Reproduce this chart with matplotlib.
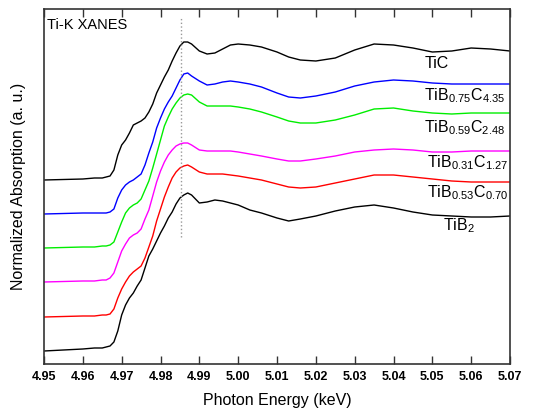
import numpy as np
import matplotlib
matplotlib.use("Agg")
import matplotlib.pyplot as plt

plt.rcParams['font.family'] = ['Liberation Sans', 'DejaVu Sans']
plt.rcParams['mathtext.fontset'] = 'custom'
plt.rcParams['mathtext.rm'] = 'Liberation Sans'
plt.rcParams['mathtext.it'] = 'Liberation Sans:italic'
plt.rcParams['mathtext.bf'] = 'Liberation Sans:bold'

# energia (keV), malla comun para todas las curvas
energy = [4.950, 4.960, 4.963, 4.965, 4.966, 4.967, 4.968, 4.969, 4.970, 4.971,
          4.972, 4.973, 4.974, 4.975, 4.976, 4.977, 4.978, 4.979, 4.980, 4.981,
          4.982, 4.983, 4.984, 4.985, 4.986, 4.987, 4.988, 4.990, 4.992, 4.994,
          4.996, 4.998, 5.000, 5.003, 5.006, 5.010, 5.013, 5.016, 5.020, 5.025,
          5.030, 5.035, 5.040, 5.045, 5.050, 5.055, 5.060, 5.065, 5.070]

# absorcion normalizada (a. u.) de cada muestra
tic = [0, .01, .02, .02, .03, .04, .10, .25, .35, .40,
       .47, .55, .57, .59, .62, .68, .76, .87, .95, 1.03,
       1.10, 1.19, 1.27, 1.34, 1.38, 1.38, 1.36, 1.29, 1.26, 1.27,
       1.31, 1.35, 1.36, 1.35, 1.33, 1.28, 1.23, 1.20, 1.19, 1.22,
       1.30, 1.36, 1.35, 1.32, 1.28, 1.29, 1.32, 1.31, 1.29]
tib075 = [0, .01, .01, .01, .01, .02, .05, .16, .24, .29,
          .32, .34, .37, .40, .49, .61, .72, .86, .96, 1.05,
          1.12, 1.18, 1.26, 1.34, 1.40, 1.41, 1.38, 1.33, 1.29, 1.30,
          1.32, 1.33, 1.32, 1.30, 1.27, 1.21, 1.17, 1.16, 1.18, 1.22,
          1.28, 1.32, 1.34, 1.33, 1.31, 1.30, 1.30, 1.30, 1.30]
tib059 = [0, .01, .01, .02, .02, .03, .06, .16, .26, .35,
          .40, .43, .45, .49, .58, .67, .80, .94, 1.08, 1.22,
          1.31, 1.39, 1.45, 1.50, 1.53, 1.54, 1.53, 1.46, 1.42, 1.42,
          1.42, 1.42, 1.41, 1.39, 1.36, 1.31, 1.27, 1.25, 1.25, 1.28,
          1.33, 1.39, 1.40, 1.37, 1.35, 1.34, 1.35, 1.35, 1.35]
tib031 = [0, .01, .01, .02, .02, .04, .09, .20, .31, .38,
          .44, .47, .49, .53, .63, .72, .86, 1.00, 1.11, 1.20,
          1.27, 1.32, 1.36, 1.38, 1.39, 1.39, 1.37, 1.32, 1.31, 1.31,
          1.31, 1.31, 1.30, 1.28, 1.26, 1.23, 1.21, 1.21, 1.23, 1.26,
          1.30, 1.32, 1.33, 1.32, 1.30, 1.30, 1.31, 1.31, 1.31]
tib053 = [0, .01, .01, .02, .02, .03, .08, .19, .28, .35,
          .41, .45, .48, .51, .59, .70, .81, .96, 1.08, 1.20,
          1.30, 1.39, 1.45, 1.49, 1.51, 1.52, 1.50, 1.45, 1.43, 1.43,
          1.43, 1.42, 1.41, 1.39, 1.37, 1.33, 1.30, 1.29, 1.30, 1.34,
          1.38, 1.42, 1.42, 1.40, 1.38, 1.36, 1.35, 1.35, 1.35]
tib2 = [0, .02, .03, .03, .04, .05, .09, .20, .36, .46,
        .53, .58, .65, .71, .83, .95, 1.02, 1.10, 1.18, 1.25,
        1.33, 1.39, 1.47, 1.53, 1.56, 1.58, 1.56, 1.48, 1.49, 1.51,
        1.50, 1.48, 1.46, 1.41, 1.38, 1.33, 1.30, 1.32, 1.35, 1.40,
        1.44, 1.46, 1.43, 1.39, 1.36, 1.35, 1.34, 1.34, 1.35]

spectra = [tic, tib075, tib059, tib031, tib053, tib2]
offsets = [1.84, 1.50, 1.16, 0.82, 0.47, 0.13]  # desplazamiento vertical
labels = ['TiC',
          r'TiB$_{0.75}$C$_{4.35}$',
          r'TiB$_{0.59}$C$_{2.48}$',
          r'TiB$_{0.31}$C$_{1.27}$',
          r'TiB$_{0.53}$C$_{0.70}$',
          r'TiB$_{2}$']
colors = ['black', '#0000ff', '#00ee00', '#ff00ff', '#ff0000', 'black']
label_x = [5.0479, 5.0479, 5.0479, 5.0485, 5.0485, 5.0528]
label_y = [2.96, 2.64, 2.32, 1.97, 1.67, 1.34]

fig = plt.figure(figsize=(5.34, 4.15), dpi=100)
ax = fig.add_axes([0.0824, 0.1229, 0.8727, 0.8554])

for s, off, c in zip(spectra, offsets, colors):
    ax.plot(energy, np.array(s) + off, color=c, lw=1.0)

for lab, lx, ly in zip(labels, label_x, label_y):
    ax.text(lx, ly, lab, fontsize=11.5, ha='left', va='baseline')

# linea punteada en el maximo
ax.plot([4.9853, 4.9853], [1.27, 3.46], color='#999999', lw=1.0, ls=':')

ax.text(0.007, 0.975, 'Ti-K XANES', transform=ax.transAxes, fontsize=10.5,
        ha='left', va='top')

ax.set_xlim(4.95, 5.07)
ax.set_ylim(0, 3.55)
ax.set_xticks(np.arange(4.95, 5.0701, 0.01))
ax.set_xticklabels(['%.2f' % v for v in np.arange(4.95, 5.0701, 0.01)],
                   fontweight='bold', fontsize=9)
ax.set_yticks([])
ax.tick_params(axis='x', direction='in', length=6, width=1, top=True,
               pad=5, color='#333333')
for sp in ax.spines.values():
    sp.set_linewidth(1.2)
    sp.set_color('#333333')

ax.set_xlabel('Photon Energy (keV)', fontsize=11.5, labelpad=7)
ax.set_ylabel('Normalized Absorption (a. u.)', fontsize=11.5, labelpad=13)

fig.savefig('out.png', dpi=100)
